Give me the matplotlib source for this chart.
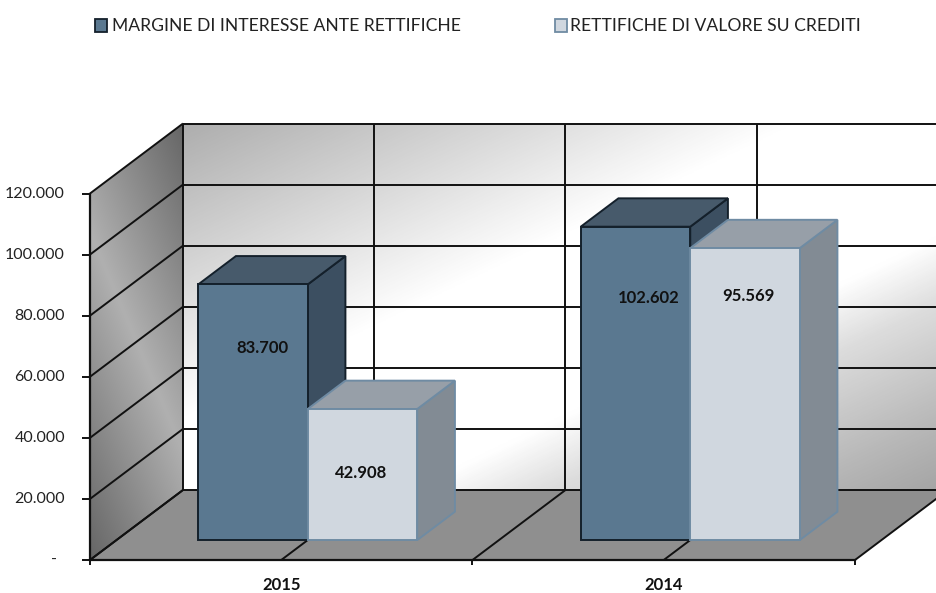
import matplotlib
matplotlib.use('Agg')
import matplotlib.pyplot as plt
import numpy as np
from matplotlib.colors import LinearSegmentedColormap
from matplotlib.patches import Polygon, Rectangle

# dati
years = ['2015', '2014']
margine = [83700, 102602]
rettifiche = [42908, 95569]
value_labels_margine = ['83.700', '102.602']
value_labels_rettifiche = ['42.908', '95.569']
y_ticks = [0, 20000, 40000, 60000, 80000, 100000, 120000]
y_tick_labels = ['-', '20.000', '40.000', '60.000', '80.000', '100.000', '120.000']
legend_labels = ['MARGINE DI INTERESSE ANTE RETTIFICHE', 'RETTIFICHE DI VALORE SU CREDITI']

W, H = 937, 593
X0_PX, Y0_PX = 90, 560       # origine del piano frontale
CAT_PX = 382.5               # larghezza di una categoria
VAL_PX = 366.5 / 120000      # pixel per unita'
DEPTH_X = 93 / CAT_PX        # profondita' del grafico in unita' dati
DEPTH_Y = 70 / VAL_PX
BAR_W = 109.5 / CAT_PX
BAR_FRONT = 0.285            # frazione di profondita' della faccia frontale
BAR_DEPTH = 0.405
YMAX = 120000

plt.rcParams['font.family'] = ['Lato', 'DejaVu Sans']

fig = plt.figure(figsize=(W / 100, H / 100), dpi=100)
ax = fig.add_axes([0, 0, 1, 1])
ax.set_axis_off()


def proj(x, y, d=0.0):
    # proiezione obliqua: d e' la frazione di profondita'
    return x + d * DEPTH_X, y + d * DEPTH_Y


def gradient(poly, extent, stops, fn, zorder=1):
    cmap = LinearSegmentedColormap.from_list('g', stops)
    u, v = np.meshgrid(np.linspace(0, 1, 300), np.linspace(0, 1, 300))
    im = ax.imshow(fn(u, v), extent=extent, origin='upper', cmap=cmap, vmin=0, vmax=1,
                   aspect='auto', zorder=zorder, interpolation='bilinear')
    patch = Polygon(poly, closed=True, transform=ax.transData, fc='none', ec='none')
    ax.add_patch(patch)
    im.set_clip_path(patch)


n = len(years)

# parete di fondo
back = [proj(0, 0, 1), proj(n, 0, 1), proj(n, YMAX, 1), proj(0, YMAX, 1)]
gradient(back, (DEPTH_X, n + DEPTH_X, DEPTH_Y, YMAX + DEPTH_Y),
         [(0, '#aeaeae'), (0.25, '#e0e0e0'), (0.4, '#ffffff'), (0.65, '#ffffff'),
          (0.74, '#dddddd'), (0.9, '#b8b8b8'), (1, '#a4a4a4')],
         lambda u, v: (u + v) / 2)

# parete sinistra
left = [proj(0, 0), proj(0, 0, 1), proj(0, YMAX, 1), proj(0, YMAX)]
gradient(left, (0, DEPTH_X, 0, YMAX + DEPTH_Y),
         [(0, '#666666'), (0.5, '#b0b0b0'), (1, '#666666')],
         lambda u, v: (0.5 * u + 1 - v) / 1.5)

# pavimento
ax.add_patch(Polygon([proj(0, 0), proj(n, 0), proj(n, 0, 1), proj(0, 0, 1)],
                     closed=True, fc='#8f8f8f', ec='none', zorder=2))

GRID = dict(color='#111111', lw=1.4, zorder=3, solid_capstyle='butt')
for v in y_ticks:
    xa, ya = proj(0, v)
    xb, yb = proj(0, v, 1)
    xc, yc = proj(n, v, 1)
    ax.plot([xa, xb], [ya, yb], **GRID)
    ax.plot([xb, xc], [yb, yc], **GRID)
    # tacche asse y
    ax.plot([xa - 8 / CAT_PX, xa], [ya, ya], **GRID)

for k in np.arange(0, n + 0.5, 0.5):
    xa, ya = proj(k, 0)
    xb, yb = proj(k, 0, 1)
    xc, yc = proj(k, YMAX, 1)
    ax.plot([xa, xb], [ya, yb], **GRID)
    ax.plot([xb, xc], [yb, yc], **GRID)

for k in range(n + 1):
    ax.plot([k, k], [0, -5 / VAL_PX], **GRID)

ax.plot([0, 0], [0, YMAX], color='#111111', lw=1.6, zorder=3)
ax.plot([0, n], [0, 0], color='#111111', lw=1.6, zorder=3)


def draw_bar(x_l, value, front, top, side, edge, z):
    x_r = x_l + BAR_W
    d0, d1 = BAR_FRONT, BAR_FRONT + BAR_DEPTH
    st = dict(closed=True, ec=edge, lw=1.4, joinstyle='miter', zorder=z)
    ax.add_patch(Polygon([proj(x_r, 0, d0), proj(x_r, 0, d1), proj(x_r, value, d1), proj(x_r, value, d0)],
                         fc=side, **st))
    ax.add_patch(Polygon([proj(x_l, value, d0), proj(x_r, value, d0), proj(x_r, value, d1), proj(x_l, value, d1)],
                         fc=top, **st))
    ax.add_patch(Polygon([proj(x_l, 0, d0), proj(x_r, 0, d0), proj(x_r, value, d0), proj(x_l, value, d0)],
                         fc=front, **st))


DARK = ('#5a7890', '#475a6b', '#3c4f61', '#14202b')
LIGHT = ('#d0d7df', '#979fa8', '#828b94', '#6f8ba3')
# posizione delle etichette dentro le barre (come nell'originale, non centrate)
label_frac_m = [0.75, 0.772]
label_frac_r = [0.508, 0.836]
label_dx_m = [9 / CAT_PX, 13 / CAT_PX]
label_dx_r = [-1 / CAT_PX, 3 / CAT_PX]

for i in range(n):
    c = i + 0.5
    draw_bar(c - BAR_W, margine[i], *DARK, z=5)
    draw_bar(c, rettifiche[i], *LIGHT, z=6)
    for x_c, val, txt, fr in [(c - BAR_W / 2 + label_dx_m[i], margine[i], value_labels_margine[i], label_frac_m[i]),
                              (c + BAR_W / 2 + label_dx_r[i], rettifiche[i], value_labels_rettifiche[i], label_frac_r[i])]:
        tx, ty = proj(x_c, val * fr, BAR_FRONT)
        ax.text(tx, ty, txt, ha='center', va='center', fontsize=12, color='#111111',
                fontweight='bold', zorder=8)
    ax.text(c, -25 / VAL_PX, years[i], ha='center', va='center', fontsize=12,
            color='#111111', fontweight='bold', zorder=8)

for v, lab in zip(y_ticks, y_tick_labels):
    x_lab = -25 / CAT_PX if lab != '-' else -33 / CAT_PX
    ax.text(x_lab, v, lab, ha='right', va='center', fontsize=11.5, color='#222222', zorder=8)

# legenda
for x_px, x_txt, lab, style in [(95, 112, legend_labels[0], DARK), (555, 570, legend_labels[1], LIGHT)]:
    fig.add_artist(Rectangle((x_px / W, 1 - 32 / H), 12 / W, 13 / H, transform=fig.transFigure,
                             fc=style[0], ec=style[3], lw=1.3))
    fig.text(x_txt / W, 1 - 26 / H, lab, ha='left', va='center', fontsize=12.6, color='#222222')

ax.set_xlim(-X0_PX / CAT_PX, (W - X0_PX) / CAT_PX)
ax.set_ylim(-(H - Y0_PX) / VAL_PX, Y0_PX / VAL_PX)

fig.savefig('out.png', dpi=100)
